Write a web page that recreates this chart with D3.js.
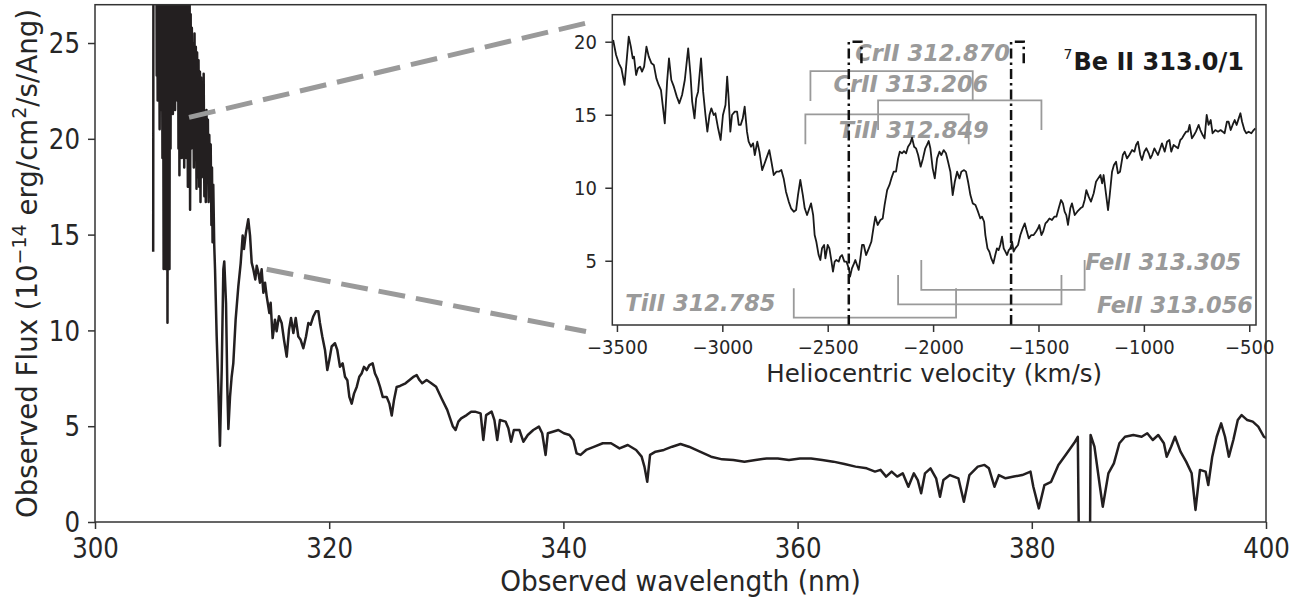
<!DOCTYPE html>
<html>
<head>
<meta charset="utf-8">
<script src="https://cdn.jsdelivr.net/npm/d3@7"></script>
<style>
  body { margin: 0; background: #fff; }
  text { font-family: "DejaVu Sans", sans-serif; }
</style>
</head>
<body>
<script>
// ---- data ----
// main spectrum: [wavelength nm, flux 1e-14]
var mainSpectrum = [
  [304.97,14.1],[304.99,30],[305.25,30],[305.27,23.3],[305.31,30],[305.35,22.0],[305.39,30],[305.43,23.3],
  [305.47,30],[305.52,20.5],[305.56,30],[305.60,21.5],[305.64,30],[305.67,22.0],[305.71,30],[305.76,19.0],
  [305.81,29],[305.86,13.2],[305.90,28],[305.94,16.0],[305.98,29],[306.03,13.2],[306.07,28],[306.12,17.0],
  [306.16,28],[306.19,10.4],[306.23,28],[306.28,17.5],[306.32,28],[306.36,13.2],[306.40,29],[306.45,19.5],
  [306.50,29],[306.55,22.5],[306.60,29],[306.65,21.3],[306.70,29],[306.74,23.0],[306.79,29],[306.84,21.5],
  [306.89,29],[306.94,24.6],[306.98,29],[307.03,22.0],[307.08,29],[307.13,19.5],[307.18,29],[307.21,18.1],
  [307.26,29],[307.31,21.5],[307.36,29],[307.41,19.0],[307.46,28],[307.52,20.0],[307.57,28],[307.62,18.5],
  [307.67,28],[307.72,20.5],[307.77,28],[307.82,19.0],[307.87,28],[307.93,17.5],[307.98,28],[308.04,18.0],
  [308.08,28],[308.12,16.3],[308.17,26.5],[308.22,19.5],[308.27,25.8],[308.32,20.0],[308.38,25.0],[308.44,18.5],
  [308.50,25.5],[308.55,19.0],[308.61,24.8],[308.67,17.4],[308.72,24.5],[308.78,18.0],[308.84,24.1],[308.90,17.5],
  [308.96,23.5],[309.01,16.7],[309.06,23.2],[309.12,18.0],[309.18,22.5],[309.24,18.5],[309.28,23.4],[309.34,17.0],
  [309.40,21.1],[309.46,16.7],[309.52,21.5],[309.58,18.5],[309.64,21.0],[309.70,16.7],[309.76,20.2],[309.82,17.5],
  [309.88,19.7],[309.94,15.5],[309.99,18.5],[310.04,14.6],[310.10,17.6],[310.18,14.5],[310.25,13.2],[310.39,9.7],
  [310.53,7.05],[310.67,3.98],[310.82,7.93],[310.96,13.2],[311.04,13.6],[311.19,11.4],[311.30,7.05],[311.39,4.86],
  [311.53,6.53],[311.67,7.58],[311.81,8.28],[312.01,10.56],[312.24,12.3],[312.44,13.5],[312.61,14.95],[312.72,14.25],
  [312.89,15.1],[313.09,15.8],[313.24,14.95],[313.38,13.54],[313.52,13.19],[313.69,12.66],[313.81,13.37],[313.95,13.02],
  [314.09,12.49],[314.23,13.19],[314.38,11.96],[314.52,12.49],[314.66,11.79],[314.89,10.91],[315.00,11.44],[315.17,9.6],
  [315.37,10.56],[315.51,9.95],[315.71,10.74],[315.94,10.39],[316.14,9.51],[316.37,8.63],[316.57,10.04],[316.74,10.65],
  [316.94,9.86],[317.14,10.65],[317.36,9.68],[317.56,9.51],[317.79,9.07],[318.02,9.68],[318.22,10.39],[318.42,10.3],
  [318.65,10.74],[318.87,11.0],[319.07,11.0],[319.21,10.39],[319.41,9.68],[319.64,8.98],[319.84,7.93],[320.01,8.46],
  [320.21,9.16],[320.49,9.33],[320.69,8.98],[320.92,8.1],[321.15,8.28],[321.35,7.58],[321.55,7.4],[321.72,6.53],
  [321.92,6.18],[322.12,6.7],[322.35,7.05],[322.57,7.58],[322.77,7.75],[322.97,8.1],[323.20,7.93],[323.43,8.19],
  [323.71,8.28],[323.91,7.75],[324.11,7.49],[324.34,7.05],[324.57,6.53],[324.91,6.53],[325.14,6.18],[325.34,5.56],
  [325.53,6.35],[325.76,7.05],[326.05,7.1],[326.52,7.24],[327.23,7.59],[327.47,7.67],[327.71,7.41],[327.94,7.24],
  [328.32,7.41],[328.66,7.27],[329.13,7.06],[329.60,6.45],[330.08,5.85],[330.55,5.0],[330.79,4.8],[331.03,5.24],
  [331.27,5.41],[331.74,5.58],[332.12,5.76],[332.45,5.76],[332.93,5.67],[333.16,4.28],[333.40,5.58],[333.87,5.76],
  [334.11,5.32],[334.35,4.28],[334.58,5.32],[335.06,5.24],[335.30,4.89],[335.53,4.19],[335.77,4.8],[336.25,4.8],
  [336.58,4.19],[336.96,4.54],[337.43,4.8],[337.91,4.98],[338.19,4.63],[338.48,3.5],[338.67,4.63],[339.09,4.71],
  [339.57,4.8],[340.04,4.63],[340.52,4.54],[340.85,4.28],[341.13,3.58],[341.47,3.5],[341.94,3.76],[342.65,3.93],
  [343.36,4.11],[344.07,4.11],[344.79,3.84],[345.50,4.02],[346.21,3.76],[346.68,3.41],[346.92,2.89],[347.16,2.1],
  [347.40,3.5],[347.87,3.67],[348.58,3.76],[349.29,3.93],[350.00,4.07],[350.72,3.93],[351.66,3.67],[352.61,3.41],
  [353.56,3.27],[354.51,3.24],[355.46,3.15],[356.41,3.24],[357.36,3.32],[358.31,3.32],[359.26,3.24],[360.20,3.32],
  [361.15,3.32],[362.10,3.24],[363.05,3.15],[364.00,3.03],[364.95,2.89],[365.90,2.8],[366.61,2.63],[367.08,2.72],
  [367.56,2.37],[368.03,2.63],[368.51,2.37],[368.98,2.54],[369.46,1.84],[369.93,2.54],[370.26,2.19],[370.55,1.5],
  [370.88,2.54],[371.35,2.8],[371.83,2.28],[372.16,1.32],[372.45,2.19],[373.01,2.45],[373.73,2.28],[374.20,1.06],
  [374.67,2.45],[375.39,2.89],[375.96,2.98],[376.34,2.8],[376.81,1.84],[377.19,2.45],[377.76,2.28],[378.47,2.37],
  [379.18,2.45],[379.89,2.63],[380.13,1.84],[380.60,0.71],[381.08,1.93],[381.65,2.1],[382.27,2.98],[382.98,3.58],
  [383.69,4.19],[383.93,4.45],[384.02,-1],[384.97,-1],[385.02,4.54],[385.35,3.93],[385.82,1.84],[386.06,0.8],
  [386.54,2.54],[387.01,3.06],[387.48,4.11],[387.96,4.45],[388.67,4.54],[389.38,4.45],[389.86,4.63],[390.33,4.28],
  [390.80,4.54],[391.28,4.11],[391.52,3.41],[391.90,3.93],[392.23,4.45],[392.70,3.67],[393.18,3.15],[393.65,2.54],
  [393.98,0.63],[394.36,2.72],[394.84,2.63],[395.07,1.93],[395.41,3.41],[395.79,4.45],[396.17,5.15],[396.50,4.45],
  [396.83,3.41],[397.21,4.28],[397.59,5.32],[397.92,5.58],[398.40,5.32],[398.87,5.24],[399.34,4.98],[399.82,4.45],
  [400.06,4.37]
];

// inset spectrum: [heliocentric velocity km/s, flux]
var insetSpectrum = [
  [-3518,20.12],[-3504,19.09],[-3491,18.52],[-3479,18.18],[-3464,17.04],[-3453,18.86],[-3444,20.35],[-3434,19.66],
  [-3425,18.86],[-3419,18.98],[-3409,17.72],[-3400,18.18],[-3390,18.29],[-3381,17.95],[-3371,18.29],[-3360,19.66],
  [-3349,18.98],[-3336,18.52],[-3325,18.41],[-3313,17.49],[-3302,17.04],[-3291,16.69],[-3283,15.67],[-3273,14.41],
  [-3262,17.26],[-3253,18.86],[-3242,17.38],[-3230,16.92],[-3216,16.24],[-3204,15.78],[-3191,16.35],[-3178,17.38],
  [-3162,19.55],[-3151,17.72],[-3143,15.89],[-3132,14.75],[-3124,16.12],[-3115,16.58],[-3101,18.86],[-3091,16.58],
  [-3080,14.98],[-3071,13.84],[-3061,14.98],[-3052,15.44],[-3041,14.98],[-3033,15.10],[-3020,14.07],[-3008,13.27],
  [-2997,14.98],[-2985,15.67],[-2977,17.61],[-2970,16.12],[-2962,13.84],[-2954,14.98],[-2941,15.21],[-2930,15.21],
  [-2922,14.30],[-2913,14.30],[-2903,14.75],[-2894,15.55],[-2883,13.84],[-2875,13.15],[-2864,12.81],[-2854,13.04],
  [-2846,12.24],[-2834,13.15],[-2824,12.47],[-2811,11.21],[-2802,11.56],[-2791,12.01],[-2777,12.58],[-2767,11.78],
  [-2756,10.87],[-2743,11.10],[-2732,11.10],[-2720,11.21],[-2709,10.64],[-2698,9.73],[-2685,9.05],[-2674,8.59],
  [-2661,8.36],[-2650,8.47],[-2641,9.50],[-2630,10.53],[-2618,9.50],[-2609,8.59],[-2598,8.13],[-2587,8.59],
  [-2579,8.93],[-2569,8.13],[-2562,6.76],[-2554,6.30],[-2543,5.39],[-2535,5.05],[-2527,5.85],[-2517,6.08],
  [-2511,5.16],[-2500,6.08],[-2492,5.85],[-2482,4.94],[-2475,4.25],[-2467,4.94],[-2459,5.05],[-2448,4.94],
  [-2440,5.28],[-2432,5.39],[-2421,4.94],[-2411,4.94],[-2400,4.48],[-2394,3.91],[-2385,4.48],[-2375,4.82],
  [-2369,5.05],[-2361,4.71],[-2353,4.37],[-2345,5.16],[-2337,6.08],[-2329,6.08],[-2318,5.39],[-2305,5.85],
  [-2293,6.30],[-2282,7.33],[-2274,8.02],[-2263,7.45],[-2250,7.79],[-2239,7.90],[-2230,8.82],[-2218,9.84],
  [-2207,10.19],[-2198,10.64],[-2187,11.10],[-2176,11.10],[-2166,12.01],[-2158,12.47],[-2147,12.36],[-2138,12.51],
  [-2128,12.36],[-2119,12.81],[-2108,13.04],[-2100,13.43],[-2090,12.81],[-2081,12.70],[-2071,12.24],[-2059,11.44],
  [-2048,12.01],[-2037,12.70],[-2029,12.93],[-2021,13.20],[-2013,12.70],[-2002,11.33],[-1992,10.64],[-1981,12.01],
  [-1970,12.47],[-1961,12.24],[-1950,12.58],[-1939,12.36],[-1929,11.78],[-1918,11.10],[-1907,9.50],[-1897,10.41],
  [-1886,11.10],[-1875,10.64],[-1866,11.10],[-1853,11.21],[-1844,11.10],[-1834,10.41],[-1823,9.50],[-1812,8.93],
  [-1799,8.82],[-1787,8.36],[-1776,7.90],[-1768,8.02],[-1758,7.67],[-1752,6.76],[-1742,5.85],[-1733,5.62],
  [-1724,5.16],[-1714,4.82],[-1705,5.39],[-1697,5.85],[-1689,5.73],[-1681,6.08],[-1673,6.65],[-1665,5.85],
  [-1657,5.62],[-1649,5.39],[-1641,5.73],[-1633,5.85],[-1625,6.30],[-1618,5.62],[-1610,5.85],[-1597,6.08],
  [-1586,6.76],[-1575,7.22],[-1565,7.56],[-1557,7.10],[-1546,6.53],[-1534,6.76],[-1523,6.76],[-1512,6.99],
  [-1502,7.22],[-1496,7.45],[-1486,6.76],[-1478,6.99],[-1467,7.56],[-1459,7.67],[-1448,7.90],[-1436,7.79],
  [-1425,8.02],[-1415,8.02],[-1404,8.59],[-1393,9.16],[-1384,8.93],[-1376,8.36],[-1368,8.13],[-1360,7.45],
  [-1349,8.59],[-1341,8.93],[-1328,8.13],[-1316,8.36],[-1301,8.59],[-1290,8.70],[-1281,9.16],[-1273,9.84],
  [-1262,9.39],[-1251,9.05],[-1238,9.62],[-1227,10.41],[-1217,10.64],[-1206,10.87],[-1198,10.30],[-1191,10.87],
  [-1183,9.96],[-1170,8.47],[-1162,9.50],[-1151,11.10],[-1142,11.56],[-1132,11.78],[-1123,10.99],[-1113,11.10],
  [-1100,12.24],[-1091,12.47],[-1080,12.01],[-1069,12.24],[-1056,12.58],[-1045,12.47],[-1037,12.93],[-1028,13.15],
  [-1017,12.24],[-1009,11.90],[-998,12.47],[-988,12.70],[-977,12.36],[-969,12.01],[-961,12.24],[-950,12.70],
  [-942,12.47],[-933,12.24],[-922,12.70],[-914,13.04],[-901,12.47],[-890,13.15],[-879,13.27],[-870,12.47],
  [-859,12.93],[-848,12.81],[-838,12.70],[-827,13.27],[-819,13.38],[-810,13.61],[-800,13.84],[-791,13.84],
  [-783,14.30],[-772,13.38],[-762,13.61],[-753,13.84],[-740,14.30],[-732,13.95],[-721,13.61],[-712,13.38],
  [-702,14.98],[-693,14.30],[-683,14.64],[-674,13.73],[-661,13.95],[-648,13.84],[-636,13.95],[-626,13.84],
  [-617,13.73],[-606,14.52],[-598,14.52],[-588,13.95],[-579,14.30],[-569,14.64],[-560,14.30],[-550,14.75],
  [-542,15.10],[-534,14.52],[-523,13.95],[-514,13.73],[-503,13.84],[-490,13.73],[-479,13.95],[-471,14.07]
];

var mainXTicks = [300, 320, 340, 360, 380, 400];
var mainYTicks = [0, 5, 10, 15, 20, 25];
var insetXTicks = [-3500, -3000, -2500, -2000, -1500, -1000, -500];
var insetYTicks = [5, 10, 15, 20];

// blend line brackets in the inset (velocity span, bar level, leg end)
var lineNames   = ["CrII 312.870", "CrII 313.206", "TiII 312.849", "FeII 313.305", "FeII 313.056", "TiII 312.785"];
var lineStart   = [-2582, -2261, -2606, -2056, -2166, -2661];
var lineEnd     = [-1812, -1486, -1831, -1281, -1391, -1891];
var lineBar     = [17.99, 15.98, 15.03, 3.0, 2.01, 1.10];
var lineTip     = [15.94, 13.95, 12.97, 5.05, 4.02, 3.11];
var labelVel    = [-2369, -2472, -2448, -1278, -1222, -3460];
var labelFlux   = [18.70, 16.58, 13.42, 4.36, 1.44, 1.55];

// 7Be II components
var beVel = [-2400, -1630];
var beTop = 20, beSep = 60, beTip = 18.3;
var beLabelVel = -525, beLabelFlux = 18.06;

// zoom connectors [wavelength, flux] start -> end
var connStart = [[308.03, 21.12], [314.66, 13.19]];
var connEnd   = [[341.93, 26.04], [341.93, 9.94]];

// ---- drawing ----
var W = 1311, H = 599;
var svg = d3.select("body").append("svg").attr("width", W).attr("height", H);

var mx = d3.scaleLinear().domain([300, 400]).range([95, 1266]);
var my = d3.scaleLinear().domain([0, 27]).range([522, 4.7]);

svg.append("clipPath").attr("id", "mainClip").append("rect")
  .attr("x", 95).attr("y", 4.7).attr("width", 1171).attr("height", 517.3);

var mainLine = d3.line().x(function(d) { return mx(d[0]); }).y(function(d) { return my(d[1]); });
svg.append("path").datum(mainSpectrum)
  .attr("clip-path", "url(#mainClip)")
  .attr("d", mainLine)
  .attr("fill", "none").attr("stroke", "#231f20").attr("stroke-width", 2.5)
  .attr("stroke-linejoin", "round");

// dashed connectors
svg.selectAll(".conn").data(connStart).enter().append("line")
  .attr("x1", function(d) { return mx(d[0]); }).attr("y1", function(d) { return my(d[1]); })
  .attr("x2", function(d, i) { return mx(connEnd[i][0]); }).attr("y2", function(d, i) { return my(connEnd[i][1]); })
  .attr("stroke", "#9a9a9a").attr("stroke-width", 5).attr("stroke-dasharray", "27,11");

// main frame
svg.append("rect").attr("x", 95).attr("y", 4.7).attr("width", 1171).attr("height", 517.3)
  .attr("fill", "none").attr("stroke", "#333").attr("stroke-width", 1.5);

// main axes
var gx = svg.append("g").attr("transform", "translate(0,522)")
  .call(d3.axisBottom(mx).tickValues(mainXTicks).tickSize(7).tickFormat(d3.format("d")));
gx.select(".domain").remove();
gx.attr("font-family", "DejaVu Sans");
gx.selectAll(".tick line").attr("stroke", "#333").attr("stroke-width", 1.5);
gx.selectAll(".tick text").attr("font-size", 24.5).attr("fill", "#262626")
  .attr("dy", null).attr("y", 36 / 1.17).attr("transform", "scale(1,1.17)");

var gy = svg.append("g").attr("transform", "translate(95,0)")
  .call(d3.axisLeft(my).tickValues(mainYTicks).tickSize(7));
gy.select(".domain").remove();
gy.attr("font-family", "DejaVu Sans");
gy.selectAll(".tick line").attr("stroke", "#333").attr("stroke-width", 1.5);
gy.selectAll(".tick text").attr("font-size", 24.5).attr("fill", "#262626")
  .attr("x", -15).attr("dy", "0.34em").attr("transform", "scale(1,1.17)");

svg.append("text").attr("transform", "translate(680.5,591) scale(1,1.08)")
  .attr("text-anchor", "middle").attr("font-size", 26.4).attr("fill", "#262626")
  .text("Observed wavelength (nm)");

var yl = svg.append("text").attr("transform", "translate(36.5,263.5) rotate(-90)")
  .attr("text-anchor", "middle").attr("font-size", 27.6).attr("fill", "#262626");
yl.append("tspan").text("Observed Flux (10");
yl.append("tspan").attr("font-size", 19).attr("dy", -11).text("\u221214");
yl.append("tspan").attr("dy", 11).text(" erg/cm");
yl.append("tspan").attr("font-size", 19).attr("dy", -11).text("2");
yl.append("tspan").attr("dy", 11).text("/s/Ang)");

// ---- inset ----
var IL = 612.3, IR = 1256, IT = 14.7, IB = 325;
var ix = d3.scaleLinear().domain([-3522, -468]).range([IL, IR]);
var iy = d3.scaleLinear().domain([0.6, 21.85]).range([IB, IT]);

svg.append("rect").attr("x", IL).attr("y", IT).attr("width", IR - IL).attr("height", IB - IT)
  .attr("fill", "#fff");
svg.append("clipPath").attr("id", "insetClip").append("rect")
  .attr("x", IL).attr("y", IT).attr("width", IR - IL).attr("height", IB - IT);

var inset = svg.append("g").attr("clip-path", "url(#insetClip)");

// brackets
var gray = "#9a9a9a";
inset.selectAll(".br").data(lineNames).enter().append("path")
  .attr("d", function(d, i) {
    return "M" + ix(lineStart[i]) + "," + iy(lineTip[i]) +
           "L" + ix(lineStart[i]) + "," + iy(lineBar[i]) +
           "L" + ix(lineEnd[i]) + "," + iy(lineBar[i]) +
           "L" + ix(lineEnd[i]) + "," + iy(lineTip[i]);
  })
  .attr("fill", "none").attr("stroke", gray).attr("stroke-width", 1.8);

inset.selectAll(".lbl").data(lineNames).enter().append("text")
  .attr("x", function(d, i) { return ix(labelVel[i]); })
  .attr("y", function(d, i) { return iy(labelFlux[i]); })
  .attr("font-size", 22.5).attr("font-weight", "bold").attr("font-style", "italic")
  .attr("fill", gray).text(function(d) { return d; });

var insetLine = d3.line().x(function(d) { return ix(d[0]); }).y(function(d) { return iy(d[1]); });
inset.append("path").datum(insetSpectrum).attr("d", insetLine)
  .attr("fill", "none").attr("stroke", "#1a1a1a").attr("stroke-width", 1.8)
  .attr("stroke-linejoin", "round");

inset.selectAll(".be").data(beVel).enter().append("path")
  .attr("d", function(v) {
    return "M" + ix(v) + "," + iy(0.6) + "L" + ix(v) + "," + iy(beTop) +
           "L" + ix(v + beSep) + "," + iy(beTop) + "L" + ix(v + beSep) + "," + iy(beTip);
  })
  .attr("fill", "none").attr("stroke", "#111").attr("stroke-width", 2.5)
  .attr("stroke-dasharray", "10,4,2.5,4");

var bl = inset.append("text")
  .attr("x", ix(beLabelVel)).attr("y", iy(beLabelFlux))
  .attr("text-anchor", "end").attr("fill", "#1a1a1a");
bl.append("tspan").attr("font-size", 14).attr("dy", -11).text("7");
bl.append("tspan").attr("font-size", 24).attr("font-weight", "bold").attr("dx", 1).attr("dy", 11)
  .text("Be II 313.0/1");

svg.append("rect").attr("x", IL).attr("y", IT).attr("width", IR - IL).attr("height", IB - IT)
  .attr("fill", "none").attr("stroke", "#333").attr("stroke-width", 1.5);

var ixg = svg.append("g").attr("transform", "translate(0," + IB + ")")
  .call(d3.axisBottom(ix).tickValues(insetXTicks).tickSize(7).tickFormat(d3.format("d")));
ixg.select(".domain").remove();
ixg.attr("font-family", "DejaVu Sans");
ixg.selectAll(".tick line").attr("stroke", "#333").attr("stroke-width", 1.5);
ixg.selectAll(".tick text").attr("font-size", 18).attr("fill", "#262626")
  .attr("dy", null).attr("y", 29 / 1.06).attr("transform", "scale(1,1.06)");

var iyg = svg.append("g").attr("transform", "translate(" + IL + ",0)")
  .call(d3.axisLeft(iy).tickValues(insetYTicks).tickSize(7));
iyg.select(".domain").remove();
iyg.attr("font-family", "DejaVu Sans");
iyg.selectAll(".tick line").attr("stroke", "#333").attr("stroke-width", 1.5);
iyg.selectAll(".tick text").attr("font-size", 18).attr("fill", "#262626")
  .attr("x", -15.3).attr("dy", "0.36em").attr("transform", "scale(1,1.06)");

svg.append("text").attr("x", (IL + IR) / 2).attr("y", 382)
  .attr("text-anchor", "middle").attr("font-size", 24.5).attr("fill", "#262626")
  .text("Heliocentric velocity (km/s)");
</script>
</body>
</html>
